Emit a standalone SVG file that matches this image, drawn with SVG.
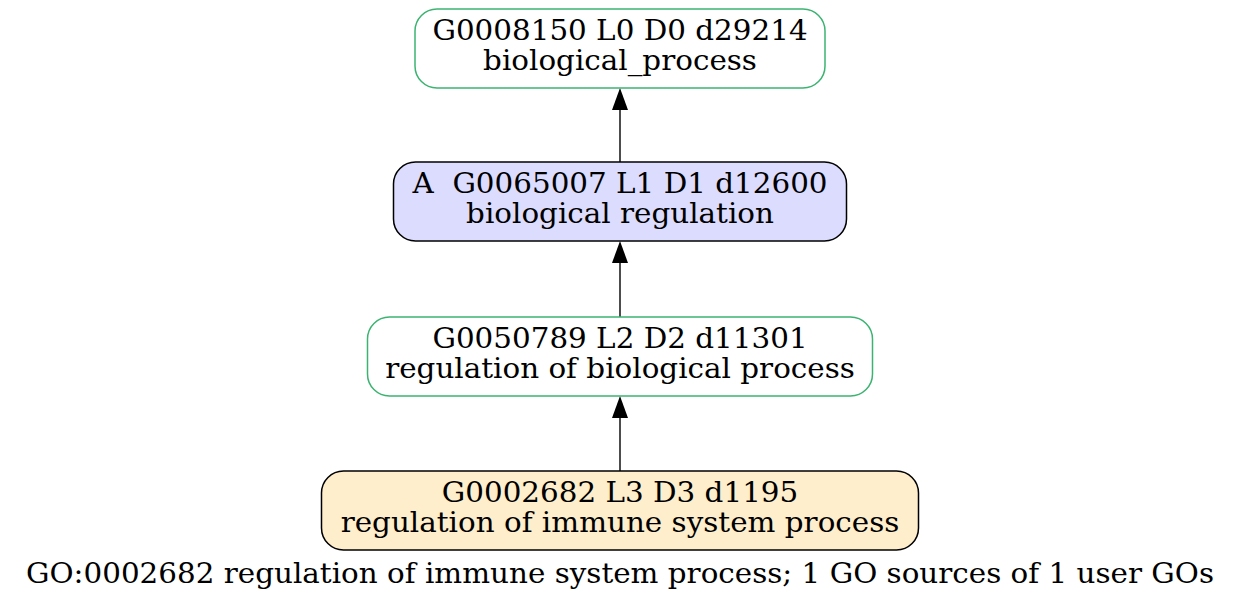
<svg xmlns="http://www.w3.org/2000/svg" width="1240" height="606" viewBox="0 0 1240 606">
<defs>
<style>
text{font-family:"DejaVu Serif","Liberation Serif",serif;font-size:27.4px;text-anchor:middle;fill:#000;white-space:pre}
.t{transform:translate(620px,0) scale(1.073,1)}
.n{stroke-width:1.5}
.g{fill:#fff;stroke:#3cb371}
.e{stroke:#000;stroke-width:1.4;fill:none}
</style>
<marker id="ah" viewBox="0 0 22 16" refX="0" refY="8" markerWidth="22" markerHeight="16" markerUnits="userSpaceOnUse" orient="auto"><path d="M0,0L22,8L0,16z" fill="#000"/></marker>
</defs>
<rect width="1240" height="606" fill="#fff"/>
<g id="connectors">
<line class="e" x1="620" y1="162" x2="620" y2="110" marker-end="url(#ah)"/>
<line class="e" x1="620" y1="317" x2="620" y2="263" marker-end="url(#ah)"/>
<line class="e" x1="620" y1="471" x2="620" y2="418" marker-end="url(#ah)"/>
</g>
<g id="n1"><rect class="n g" x="415" y="9" width="410" height="79" rx="22"/>
<g class="t"><text x="0" y="40">G0008150 L0 D0 d29214</text><text x="0" y="70">biological_process</text></g></g>
<g id="n2"><rect class="n" x="393.5" y="162" width="453" height="79" rx="22" fill="#dcdcff" stroke="#000"/>
<g class="t"><text x="0" y="193" xml:space="preserve">A  G0065007 L1 D1 d12600</text><text x="0" y="223">biological regulation</text></g></g>
<g id="n3"><rect class="n g" x="367.5" y="317" width="505" height="79" rx="22"/>
<g class="t"><text x="0" y="348">G0050789 L2 D2 d11301</text><text x="0" y="378">regulation of biological process</text></g></g>
<g id="n4"><rect class="n" x="321.5" y="471" width="597" height="79" rx="22" fill="#ffeecc" stroke="#000"/>
<g class="t"><text x="0" y="502">G0002682 L3 D3 d1195</text><text x="0" y="532">regulation of immune system process</text></g></g>
<g id="footer" class="t"><text x="0" y="583">GO:0002682 regulation of immune system process; 1 GO sources of 1 user GOs</text></g>
</svg>
